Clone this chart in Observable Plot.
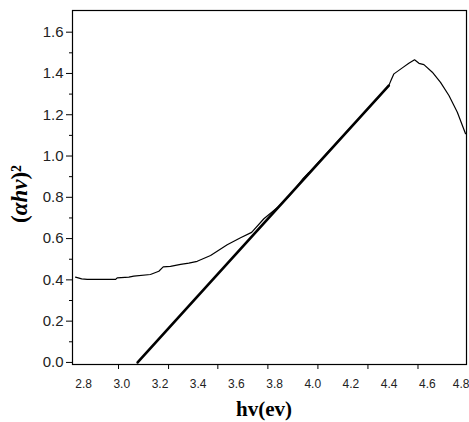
<!DOCTYPE html>
<html>
<head>
<meta charset="utf-8">
<script src="https://cdn.jsdelivr.net/npm/d3@7"></script>
<script src="https://cdn.jsdelivr.net/npm/@observablehq/plot@0.6"></script>
<style>
  html, body { margin: 0; padding: 0; background: #fff; }
  #chart svg { display: block; }
</style>
</head>
<body>
<div id="chart"></div>
<script>
// Measured absorption curve (hv in eV, (αhv)^2)
const curveX = [2.758, 2.790, 2.819, 2.968, 2.976, 3.037, 3.063, 3.150, 3.194, 3.217, 3.255, 3.308, 3.351, 3.395, 3.465, 3.552, 3.622, 3.680, 3.744, 3.779, 3.820, 3.870, 3.920, 3.950, 3.980, 4.050, 4.150, 4.250, 4.350, 4.398, 4.411, 4.425, 4.469, 4.503, 4.533, 4.556, 4.582, 4.626, 4.669, 4.713, 4.757, 4.800];
const curveY = [0.413, 0.405, 0.402, 0.402, 0.410, 0.413, 0.418, 0.426, 0.442, 0.463, 0.465, 0.475, 0.481, 0.490, 0.518, 0.570, 0.604, 0.630, 0.696, 0.723, 0.755, 0.800, 0.855, 0.892, 0.920, 0.990, 1.090, 1.190, 1.290, 1.341, 1.369, 1.398, 1.427, 1.449, 1.466, 1.449, 1.443, 1.406, 1.357, 1.293, 1.212, 1.108];

// Linear (Tauc) fit line
const fitX = [3.083, 4.398];
const fitY = [0.0, 1.341];

// Axis ticks
const xLabels = [2.8, 3.0, 3.2, 3.4, 3.6, 3.8, 4.0, 4.2, 4.4, 4.6];
const xLabelsEdge = [4.8];
const xTickMarks = [2.983, 3.245, 3.503, 3.765, 4.027, 4.289, 4.551];
const yMajor = [0.0, 0.2, 0.4, 0.6, 0.8, 1.0, 1.2, 1.4, 1.6];
const yMinor = [0.1, 0.3, 0.5, 0.7, 0.9, 1.1, 1.3, 1.5];

const curve = curveX.map((x, i) => ({x, y: curveY[i]}));
const fit = fitX.map((x, i) => ({x, y: fitY[i]}));

const chart = Plot.plot({
  width: 469,
  height: 422,
  marginTop: 10,
  marginRight: 3,
  marginBottom: 58,
  marginLeft: 72,
  style: {fontFamily: "'Liberation Sans', Arial, sans-serif", background: "#fff", color: "#000"},
  x: {domain: [2.742, 4.805], axis: null},
  y: {domain: [-0.01, 1.705], axis: null},
  marks: [
    Plot.line(fit, {x: "x", y: "y", stroke: "#000", strokeWidth: 2.6}),
    Plot.line(curve, {x: "x", y: "y", stroke: "#000", strokeWidth: 1.2, curve: "linear"}),
    Plot.frame({stroke: "#000", strokeWidth: 1.2}),
    Plot.axisX(xTickMarks, {tickSize: 5, tickFormat: () => "", label: null, stroke: "#000"}),
    Plot.axisX(xLabels, {tickSize: 0, tickPadding: 15, tickFormat: ".1f", fontSize: 12, fill: "#222", label: null}),
    Plot.axisX(xLabelsEdge, {tickSize: 0, tickPadding: 15, tickFormat: ".1f", fontSize: 12, fill: "#222", label: null, textAnchor: "end", dx: 4}),
    Plot.axisY(yMajor, {tickSize: 6, tickPadding: 3, tickFormat: ".1f", fontSize: 15, fill: "#222", label: null, stroke: "#000"}),
    Plot.axisY(yMinor, {tickSize: 3, tickFormat: () => "", label: null, stroke: "#000"})
  ]
});

const svg = d3.select(chart);
svg.append("text")
  .attr("x", 264).attr("y", 416)
  .attr("text-anchor", "middle")
  .attr("font-family", "'Liberation Serif', 'Times New Roman', serif")
  .attr("font-weight", "bold")
  .attr("font-size", 21)
  .attr("fill", "#000")
  .text("hv(ev)");

const yl = svg.append("text")
  .attr("transform", "translate(27,194) rotate(-90)")
  .attr("text-anchor", "middle")
  .attr("font-family", "'Liberation Serif', 'Times New Roman', serif")
  .attr("font-weight", "bold")
  .attr("font-size", 23)
  .attr("fill", "#000");
yl.append("tspan").text("(");
yl.append("tspan").attr("font-style", "italic").text("αhv");
yl.append("tspan").text(")²");

document.getElementById("chart").appendChild(chart);
</script>
</body>
</html>
